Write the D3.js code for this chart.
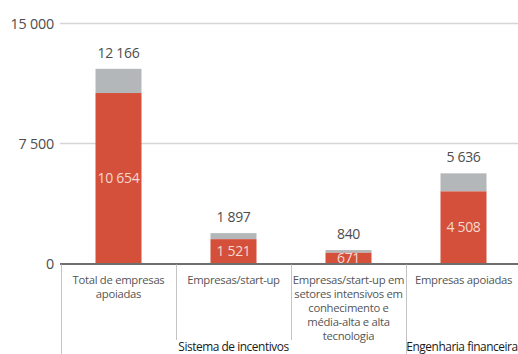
<!DOCTYPE html>
<html>
<head>
<meta charset="utf-8">
<script src="https://cdn.jsdelivr.net/npm/d3@7"></script>
<style>
  html, body { margin: 0; padding: 0; background: #fff; }
  svg { display: block; font-family: "Open Sans", sans-serif; }
</style>
</head>
<body>
<svg id="chart" width="518" height="354"></svg>
<script>
// Categories, grouped under two programme headings
const categories = [
  "Total de empresas apoiadas",
  "Empresas/start-up",
  "Empresas/start-up em setores intensivos em conhecimento e média-alta e alta tecnologia",
  "Empresas apoiadas"
];
const categoryLines = [
  ["Total de empresas", "apoiadas"],
  ["Empresas/start-up"],
  ["Empresas/start-up em", "setores intensivos em", "conhecimento e", "média-alta e alta", "tecnologia"],
  ["Empresas apoiadas"]
];
const groups = ["Sistema de incentivos", "Sistema de incentivos", "Sistema de incentivos", "Engenharia financeira"];
const redValues = [10654, 1521, 671, 4508];
const totalValues = [12166, 1897, 840, 5636];
const yTicks = [0, 7500, 15000];

const svg = d3.select("#chart");
const W = 518, H = 354;
const left = 61, baseY = 263.5, topY = 23.5;

const x = d3.scaleBand().domain(categories).range([left, left + 4 * 115]).padding(0);
const y = d3.scaleLinear().domain([0, 15000]).range([baseY, topY]);

const fmt = v => d3.format(",d")(v).replace(/,/g, " ");

// Gridlines
svg.append("g").selectAll("line").data(yTicks.filter(d => d > 0)).join("line")
  .attr("x1", left - 1).attr("x2", W)
  .attr("y1", d => y(d)).attr("y2", d => y(d))
  .attr("stroke", "#d6d6d6").attr("stroke-width", 1.3);

// Y tick labels
svg.append("g").selectAll("text").data(yTicks).join("text")
  .attr("x", 54).attr("y", d => y(d)).attr("dy", "0.36em")
  .attr("text-anchor", "end").attr("font-size", 14.3).attr("fill", "#4d4d4d")
  .attr("letter-spacing", "-0.2")
  .text(d => fmt(d));

const barW = 46;
const bars = svg.append("g");
// Gray segment: the remainder up to the total
bars.selectAll("rect.total").data(categories).join("rect")
  .attr("class", "total")
  .attr("x", d => x(d) + x.bandwidth() / 2 - barW / 2)
  .attr("width", barW)
  .attr("y", (d, i) => y(totalValues[i]))
  .attr("height", (d, i) => y(redValues[i]) - y(totalValues[i]))
  .attr("fill", "#b4b7b9");
// Red segment
bars.selectAll("rect.red").data(categories).join("rect")
  .attr("class", "red")
  .attr("x", d => x(d) + x.bandwidth() / 2 - barW / 2)
  .attr("width", barW)
  .attr("y", (d, i) => y(redValues[i]))
  .attr("height", (d, i) => baseY - y(redValues[i]))
  .attr("fill", "#d4503a");

// Labels inside red segments
svg.append("g").selectAll("text").data(categories).join("text")
  .attr("x", d => x(d) + x.bandwidth() / 2)
  .attr("y", (d, i) => (y(redValues[i]) + baseY) / 2)
  .attr("dy", "0.36em").attr("text-anchor", "middle")
  .attr("font-size", 14).attr("fill", "#f5d8d1").attr("letter-spacing", "-0.3")
  .text((d, i) => fmt(redValues[i]));

// Total labels above bars
svg.append("g").selectAll("text").data(categories).join("text")
  .attr("x", d => x(d) + x.bandwidth() / 2)
  .attr("y", (d, i) => y(totalValues[i]) - 16)
  .attr("dy", "0.36em").attr("text-anchor", "middle")
  .attr("font-size", 14).attr("fill", "#4d4d4d").attr("letter-spacing", "-0.3")
  .text((d, i) => fmt(totalValues[i]));

// Baseline
svg.append("line").attr("x1", left - 1).attr("x2", W).attr("y1", baseY + 0.5).attr("y2", baseY + 0.5)
  .attr("stroke", "#6e6e6e").attr("stroke-width", 1.8);

// Category separators: long ones where a group starts, shorter ones within a group
const seps = categories.map((d, i) => ({
  x: x(d),
  long: i === 0 || groups[i] !== groups[i - 1]
}));
svg.append("g").selectAll("line").data(seps).join("line")
  .attr("x1", d => d.x + 0.5).attr("x2", d => d.x + 0.5)
  .attr("y1", baseY + 1).attr("y2", d => d.long ? H : 340)
  .attr("stroke", "#c4c4c4").attr("stroke-width", 1);

// Category labels
const catG = svg.append("g");
categories.forEach((c, i) => {
  const cx = x(c) + x.bandwidth() / 2;
  const t = catG.append("text")
    .attr("x", cx).attr("y", 284)
    .attr("text-anchor", "middle").attr("font-size", 11.3).attr("fill", "#555")
    .attr("letter-spacing", "-0.3");
  categoryLines[i].forEach((line, j) => {
    t.append("tspan").attr("x", cx).attr("dy", j === 0 ? 0 : 14).text(line);
  });
});

// Group labels, centred under the categories they cover
const groupNames = Array.from(new Set(groups));
const groupSpans = groupNames.map(g => {
  const members = categories.filter((c, i) => groups[i] === g);
  return { name: g, x0: x(members[0]), x1: x(members[members.length - 1]) + x.bandwidth() };
});
svg.append("g").selectAll("text").data(groupSpans).join("text")
  .attr("x", d => (d.x0 + Math.min(d.x1, W)) / 2)
  .attr("y", 351)
  .attr("text-anchor", "middle").attr("font-size", 11.9).attr("fill", "#1a1a1a")
  .attr("letter-spacing", "-0.45")
  .text(d => d.name);
</script>
</body>
</html>
